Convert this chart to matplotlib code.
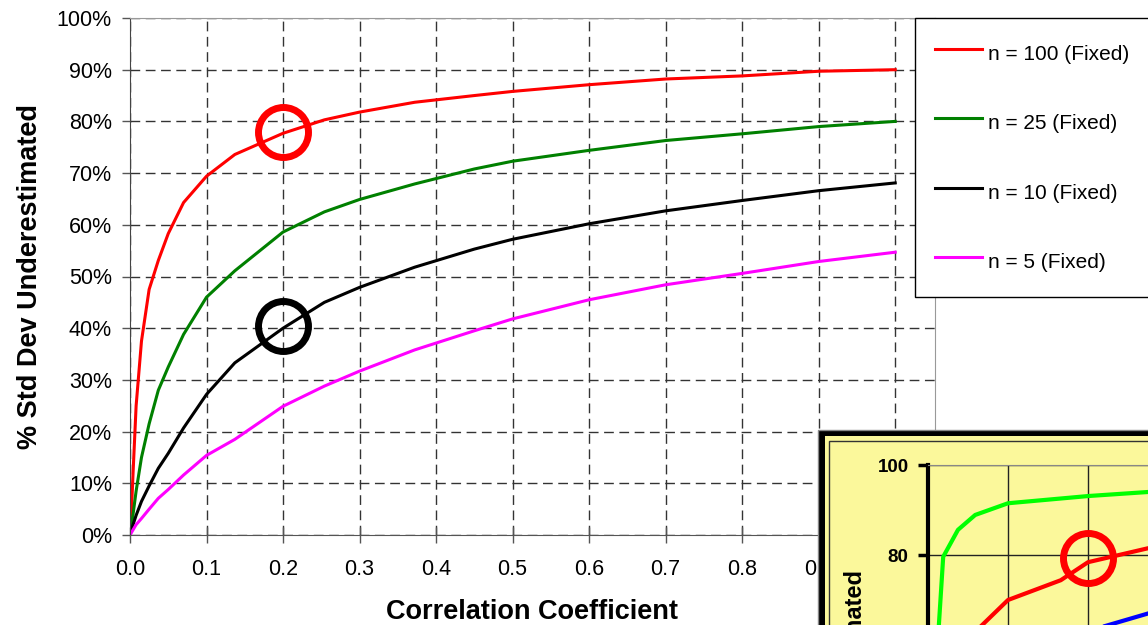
import matplotlib
matplotlib.use("Agg")
import matplotlib.pyplot as plt
from matplotlib.patches import Rectangle

plt.rcParams['font.family'] = ['Liberation Sans', 'DejaVu Sans']

# main chart: % std dev underestimated vs correlation coefficient
rho = [0, 0.002, 0.004, 0.008, 0.015, 0.025, 0.037, 0.05, 0.07, 0.1, 0.137, 0.2,
       0.254, 0.3, 0.372, 0.45, 0.5, 0.6, 0.7, 0.8, 0.9, 1.0]
n100 = [0, 5, 12, 25, 37.5, 47.5, 53.1, 58.3, 64.3, 69.4, 73.6, 77.7,
        80.3, 81.8, 83.7, 85.0, 85.8, 87.1, 88.2, 88.8, 89.7, 90.0]
n25 = [0, 2, 4, 8.5, 15, 21.5, 28.0, 32.5, 38.8, 46.0, 51.1, 58.6,
       62.5, 64.9, 67.9, 70.8, 72.3, 74.4, 76.3, 77.6, 79.0, 80.0]
n10 = [0, 1, 2, 3.8, 6.5, 9.5, 12.9, 15.8, 20.7, 27.2, 33.3, 40.0,
       45.0, 47.9, 51.8, 55.3, 57.2, 60.2, 62.7, 64.7, 66.6, 68.1]
n5 = [0, 0.5, 1, 2, 3.2, 5, 7.1, 8.8, 11.6, 15.4, 18.5, 24.9,
      28.8, 31.7, 35.8, 39.5, 41.8, 45.5, 48.4, 50.6, 52.9, 54.7]
labels = ["n = 100 (Fixed)", "n = 25 (Fixed)", "n = 10 (Fixed)", "n = 5 (Fixed)"]
colors = ["#ff0000", "#008000", "#000000", "#ff00ff"]
xticks = [0.0, 0.1, 0.2, 0.3, 0.4, 0.5, 0.6, 0.7, 0.8, 0.9, 1.0]
yticks = [0, 10, 20, 30, 40, 50, 60, 70, 80, 90, 100]

# highlighted points
circ_x = [0.2, 0.2]
circ_y = [78.0, 40.5]
circ_c = ["#ff0000", "#000000"]

# pasted inset chart (partly visible)
in_green_x = [0.012, 0.019, 0.0375, 0.059, 0.1, 0.2, 0.275]
in_green_y = [60, 79.6, 85.6, 88.9, 91.5, 93.1, 94.0]
in_red_x = [0.042, 0.0675, 0.1, 0.166, 0.2, 0.275]
in_red_y = [60, 64.4, 70.0, 74.4, 78.4, 81.5]
in_blue_x = [0.15, 0.225, 0.275]
in_blue_y = [60.5, 64.4, 67.0]
in_yticks = [80, 100]

W, H = 1148, 625
fig = plt.figure(figsize=(W / 100, H / 100), dpi=100)
fig.patch.set_facecolor("white")

ax = fig.add_axes([130 / W, 1 - 535 / H, (935 - 130) / W, (535 - 18) / H])
for ys, lab, c in zip([n100, n25, n10, n5], labels, colors):
    ax.plot(rho, ys, color=c, lw=2.2, label=lab)
for x, y, c in zip(circ_x, circ_y, circ_c):
    ax.plot(x, y, 'o', ms=36, mfc='none', mec=c, mew=5)

ax.set_xlim(0, 1.052)
ax.set_ylim(0, 100)
ax.set_xticks(xticks)
# the 1.0 label sits under the pasted inset, so leave it blank
ax.set_xticklabels(["%.1f" % v if v < 1 else "" for v in xticks])
ax.set_yticks(yticks)
ax.set_yticklabels(["%d%%" % v for v in yticks])
ax.grid(True, color="#333333", lw=1, linestyle=(0, (7, 4)))
ax.tick_params(axis='x', direction='inout', length=11, width=1, color="#555555",
               labelsize=15.5, pad=12)
ax.tick_params(axis='y', direction='out', length=6, width=1, color="#555555",
               labelsize=15.5, pad=7)
ax.spines['left'].set_color("#444444")
ax.spines['bottom'].set_color("#555555")
ax.spines['top'].set_color("#999999")
ax.spines['right'].set_color("#999999")
ax.set_xlabel("Correlation Coefficient", fontsize=19.5, fontweight='bold')
ax.set_ylabel("% Std Dev Underestimated", fontsize=19.5, fontweight='bold')
ax.xaxis.set_label_coords(0.5, -0.123)
ax.yaxis.set_label_coords(-0.108, 0.5)

leg = ax.legend(loc='upper left', bbox_to_anchor=(915 / W, 1 - 18 / H),
                bbox_transform=fig.transFigure, borderaxespad=0, fontsize=15,
                labelspacing=1.85, handlelength=2.26, handletextpad=0.3,
                handleheight=1.9, borderpad=0.95, fancybox=False, framealpha=1)
leg.get_frame().set_edgecolor("#000000")
leg.get_frame().set_linewidth(1)


def px_rect(x0, y0, x1, y1, **kw):
    return Rectangle((x0 / W, 1 - y1 / H), (x1 - x0) / W, (y1 - y0) / H,
                     transform=fig.transFigure, **kw)


yellow = "#fbf89b"
fig.add_artist(px_rect(818, 430, 1200, 700, facecolor="#000000",
                       edgecolor="#888888", lw=1, zorder=2))
fig.add_artist(px_rect(825, 436, 1200, 700, facecolor=yellow, edgecolor='none', zorder=3))
fig.add_artist(px_rect(828.5, 441, 1200, 700, facecolor='none',
                       edgecolor="#333333", lw=1, zorder=4))

ins = fig.add_axes([928 / W, 1 - 915 / H, 220 / W, 450 / H])
ins.set_zorder(5)
ins.set_facecolor(yellow)
ins.plot(in_green_x, in_green_y, color="#00ff00", lw=3)
ins.plot(in_red_x, in_red_y, color="#ff0000", lw=3)
ins.plot(in_blue_x, in_blue_y, color="#0000ff", lw=3)
ins.plot(0.2, 79.3, 'o', ms=36, mfc='none', mec="#ff0000", mew=5)
ins.set_xlim(0, 0.275)
ins.set_ylim(0, 100)
ins.set_xticks([0.1, 0.2])
ins.set_yticks(in_yticks)
ins.set_yticklabels([str(v) for v in in_yticks], fontweight='bold')
ins.grid(True, color="#222222", lw=1)
ins.tick_params(axis='x', length=0, labelbottom=False)
ins.tick_params(axis='y', length=7, width=2.5, color="#000000", labelsize=13.5, pad=7)
ins.spines['left'].set_linewidth(3)
ins.spines['left'].set_color("#000000")
ins.spines['top'].set_color("#888888")
ins.spines['right'].set_visible(False)
ins.spines['bottom'].set_visible(False)
fig.text(855 / W, 1 - 570 / H, "% Std Dev Underestimated", rotation=90,
         ha='center', va='top', fontsize=17, fontweight='bold', zorder=6)

fig.savefig("out.png", dpi=100)
